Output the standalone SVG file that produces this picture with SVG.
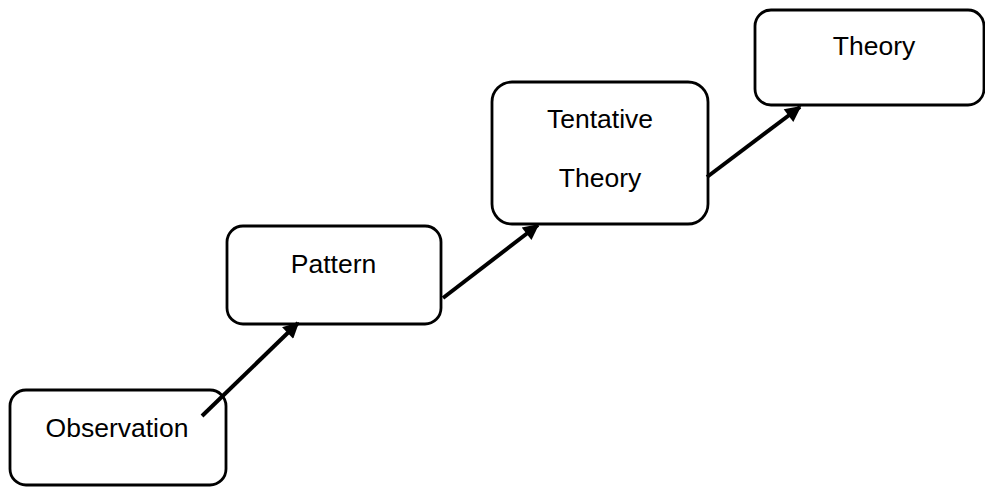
<svg xmlns="http://www.w3.org/2000/svg" width="985" height="487" viewBox="0 0 985 487">
  <style>
    .box { fill: #ffffff; stroke: #000000; stroke-width: 2.8; }
    .label { font-family: "Liberation Sans", Arial, sans-serif; font-size: 26.5px; fill: #000000; text-anchor: middle; }
    .edge { stroke: #000000; stroke-width: 4; fill: none; marker-end: url(#arrow); }
  </style>
  <defs>
    <marker id="arrow" viewBox="0 0 10 10" refX="9" refY="5" markerWidth="4.6" markerHeight="4" markerUnits="strokeWidth" orient="auto">
      <path d="M0,0 L10,5 L0,10 z" fill="#000000"/>
    </marker>
  </defs>
  <rect width="985" height="487" fill="#ffffff"/>

  <g id="observation">
    <rect class="box" x="10" y="390" width="216" height="95" rx="16" ry="16"/>
    <text class="label" x="117" y="437">Observation</text>
  </g>

  <g id="pattern">
    <rect class="box" x="227" y="226" width="214" height="98" rx="16" ry="16"/>
    <text class="label" x="333.5" y="273">Pattern</text>
  </g>

  <g id="tentative-theory">
    <rect class="box" x="492" y="82" width="216" height="142" rx="20" ry="20"/>
    <text class="label" x="600" y="128">Tentative</text>
    <text class="label" x="600" y="187">Theory</text>
  </g>

  <g id="theory">
    <rect class="box" x="755" y="10" width="229" height="95" rx="16" ry="16"/>
    <text class="label" x="874" y="55">Theory</text>
  </g>

  <g id="connectors">
    <line class="edge" x1="202" y1="416" x2="298" y2="323"/>
    <line class="edge" x1="443" y1="298" x2="538" y2="225"/>
    <line class="edge" x1="707" y1="177" x2="800" y2="107"/>
  </g>
</svg>
